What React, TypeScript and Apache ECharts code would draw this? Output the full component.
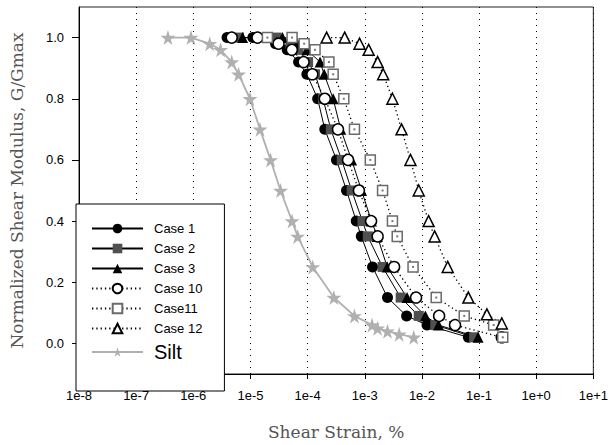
import React, { useEffect, useRef } from "react";
import * as echarts from "echarts";

const yTicks = [0, 0.2, 0.4, 0.6, 0.8, 1.0];

const case1X = [3.9e-6, 1.1e-5, 2.75e-5, 4.4e-5, 6.95e-5, 9.7e-5, 1.5e-4, 2.0e-4, 3.2e-4, 4.8e-4, 7.1e-4, 8.7e-4, 1.37e-3, 2.5e-3, 5.4e-3, 1.23e-2, 6.5e-2];
const case1G = [1.0, 1.0, 0.98, 0.96, 0.92, 0.88, 0.8, 0.7, 0.6, 0.5, 0.4, 0.35, 0.25, 0.15, 0.09, 0.06, 0.02];

const case2X = [6.3e-6, 2.86e-5, 5.0e-5, 6.9e-5, 1.02e-4, 1.35e-4, 1.86e-4, 2.55e-4, 3.95e-4, 5.9e-4, 9.1e-4, 1.13e-3, 2.05e-3, 4.25e-3, 8.8e-3, 1.71e-2, 8.2e-2];
const case2G = [1.0, 1.0, 0.98, 0.96, 0.92, 0.88, 0.8, 0.7, 0.6, 0.5, 0.4, 0.35, 0.25, 0.15, 0.09, 0.06, 0.02];

const case3X = [7.3e-6, 3.63e-5, 6.6e-5, 9.7e-5, 1.65e-4, 1.95e-4, 2.8e-4, 3.8e-4, 5.9e-4, 8.8e-4, 1.31e-3, 1.66e-3, 2.47e-3, 5.5e-3, 1.15e-2, 1.95e-2, 9.6e-2];
const case3G = [1.0, 1.0, 0.98, 0.96, 0.92, 0.88, 0.8, 0.7, 0.6, 0.5, 0.4, 0.35, 0.25, 0.15, 0.09, 0.06, 0.02];

const case10X = [4.7e-6, 1.33e-5, 3.1e-5, 5.3e-5, 8.5e-5, 1.21e-4, 2.0e-4, 3.4e-4, 5.1e-4, 7.9e-4, 1.29e-3, 1.68e-3, 3.26e-3, 7.9e-3, 2.0e-2, 3.8e-2, 0.25];
const case10G = [1.0, 1.0, 0.98, 0.96, 0.92, 0.88, 0.8, 0.7, 0.6, 0.5, 0.4, 0.35, 0.25, 0.15, 0.09, 0.06, 0.02];

const case11X = [1.98e-5, 5.35e-5, 8.7e-5, 1.35e-4, 2.36e-4, 2.8e-4, 4.3e-4, 6.6e-4, 1.25e-3, 2.05e-3, 3.05e-3, 3.7e-3, 7.0e-3, 1.78e-2, 5.5e-2, 0.18, 0.26];
const case11G = [1.0, 1.0, 0.98, 0.96, 0.92, 0.88, 0.8, 0.7, 0.6, 0.5, 0.4, 0.35, 0.25, 0.15, 0.09, 0.06, 0.02];

const case12X = [2.15e-4, 4.45e-4, 8.1e-4, 1.17e-3, 1.68e-3, 2.1e-3, 3.05e-3, 4.4e-3, 6.3e-3, 8.8e-3, 1.31e-2, 1.67e-2, 2.83e-2, 6.5e-2, 0.137, 0.25];
const case12G = [1.0, 1.0, 0.98, 0.96, 0.92, 0.88, 0.8, 0.7, 0.6, 0.5, 0.4, 0.35, 0.25, 0.15, 0.095, 0.065];

const siltX = [3.6e-7, 9.1e-7, 1.94e-6, 3.0e-6, 4.7e-6, 6.2e-6, 9.8e-6, 1.47e-5, 2.25e-5, 3.36e-5, 5.35e-5, 6.7e-5, 1.23e-4, 2.88e-4, 6.6e-4, 1.34e-3, 1.68e-3, 2.5e-3, 4.0e-3, 7.2e-3];
const siltG = [1.0, 1.0, 0.98, 0.96, 0.92, 0.88, 0.8, 0.7, 0.6, 0.5, 0.4, 0.35, 0.25, 0.15, 0.09, 0.06, 0.05, 0.04, 0.03, 0.02];

const zip = (xs: number[], ys: number[]) => xs.map((x, i) => [x, ys[i]]);

const STAR = "path://M50,0 L61,35 L98,35 L68,57 L79,91 L50,70 L21,91 L32,57 L2,35 L39,35 Z";
const DOTTED: number[] = [1.3, 3];
const SANS = "Liberation Sans, Arial, sans-serif";
const SERIF = "DejaVu Serif, Liberation Serif, serif";

export default function App() {
  const ref = useRef<HTMLDivElement>(null);
  useEffect(() => {
    if (!ref.current) return;
    const chart = echarts.init(ref.current, null, { renderer: "svg" });
    const solidLine = { color: "#000", width: 1, type: "solid" };
    const dotLine = { color: "#000", width: 1.3, type: DOTTED };
    chart.setOption({
      animation: false,
      backgroundColor: "#fff",
      grid: {
        left: 76,
        right: 14,
        top: 7,
        bottom: 71,
        show: true,
        borderColor: "#222",
        borderWidth: 1,
        backgroundColor: "transparent",
      },
      legend: {
        orient: "vertical",
        left: 76,
        top: 204,
        padding: [18, 22, 29, 15],
        itemWidth: 51,
        itemHeight: 12,
        itemGap: 7,
        backgroundColor: "#fff",
        borderColor: "#000",
        borderWidth: 1,
        borderRadius: 0,
        textStyle: { fontFamily: SANS, fontSize: 13, color: "#000", padding: [0, 0, 0, 6] },
        data: [
          "Case 1",
          "Case 2",
          "Case 3",
          "Case 10",
          "Case11",
          "Case 12",
          { name: "Silt", textStyle: { fontSize: 20, padding: [0, 0, 0, 6] } },
        ],
        z: 10,
      },
      xAxis: {
        type: "log",
        logBase: 10,
        min: 1e-8,
        max: 10,
        splitNumber: 9,
        name: "Shear Strain, %",
        nameLocation: "middle",
        nameGap: 49,
        nameTextStyle: { fontFamily: SERIF, fontSize: 17, color: "#555" },
        axisLine: { onZero: false, lineStyle: { color: "#000", width: 1 } },
        axisTick: { show: true, inside: false, length: 5, lineStyle: { color: "#000" } },
        axisLabel: {
          margin: 15,
          fontFamily: SANS,
          fontSize: 13,
          color: "#000",
          showMinLabel: true,
          showMaxLabel: true,
          formatter: (v: number) => {
            const e = Math.round(Math.log10(v));
            return "1e" + (e >= 0 ? "+" : "-") + Math.abs(e);
          },
        },
        splitLine: { show: true, lineStyle: { color: "#000", width: 1, type: [1, 5] } },
      },
      yAxis: {
        type: "value",
        min: -0.1,
        max: 1.1,
        name: "Normalized Shear Modulus, G/Gmax",
        nameLocation: "middle",
        nameGap: 54,
        nameTextStyle: { fontFamily: SERIF, fontSize: 17, color: "#555" },
        axisLine: { show: true, onZero: false, lineStyle: { color: "#000", width: 1 } },
        axisTick: { show: true, length: 7, customValues: yTicks, lineStyle: { color: "#000" } },
        axisLabel: {
          margin: 15,
          fontFamily: SANS,
          fontSize: 13,
          color: "#000",
          customValues: yTicks,
          formatter: (v: number) => v.toFixed(1),
        },
        splitLine: { show: false },
      },
      series: [
        {
          name: "Silt",
          type: "line",
          data: zip(siltX, siltG),
          symbol: STAR,
          symbolSize: 15,
          itemStyle: { color: "#b0b0b0" },
          lineStyle: { color: "#b0b0b0", width: 1.8 },
          z: 2,
        },
        {
          name: "Case 1",
          type: "line",
          data: zip(case1X, case1G),
          symbol: "circle",
          symbolSize: 11,
          itemStyle: { color: "#000" },
          lineStyle: solidLine,
          z: 3,
        },
        {
          name: "Case 2",
          type: "line",
          data: zip(case2X, case2G),
          symbol: "rect",
          symbolSize: 10,
          itemStyle: { color: "#505050" },
          lineStyle: solidLine,
          z: 3,
        },
        {
          name: "Case 3",
          type: "line",
          data: zip(case3X, case3G),
          symbol: "triangle",
          symbolSize: 11,
          itemStyle: { color: "#000" },
          lineStyle: solidLine,
          z: 3,
        },
        {
          name: "Case 10",
          type: "line",
          data: zip(case10X, case10G),
          symbol: "circle",
          symbolSize: 11,
          itemStyle: { color: "#fff", borderColor: "#000", borderWidth: 1.5 },
          lineStyle: dotLine,
          z: 4,
        },
        {
          name: "Case11",
          type: "line",
          data: zip(case11X, case11G),
          symbol: "rect",
          symbolSize: 10,
          itemStyle: { color: "#fff", borderColor: "#6a6a6a", borderWidth: 1.5 },
          lineStyle: dotLine,
          z: 4,
        },
        {
          name: "Case11dot",
          type: "scatter",
          data: zip(case11X, case11G),
          symbol: "rect",
          symbolSize: 2,
          itemStyle: { color: "#555" },
          silent: true,
          z: 5,
        },
        {
          name: "Case 12",
          type: "line",
          data: zip(case12X, case12G),
          symbol: "triangle",
          symbolSize: 11,
          itemStyle: { color: "#fff", borderColor: "#000", borderWidth: 1.5 },
          lineStyle: dotLine,
          z: 4,
        },
      ],
    });
    return () => chart.dispose();
  }, []);
  return (
    <div
      ref={ref}
      style={{ position: "absolute", left: 0, top: 0, width: 611, height: 445 }}
    />
  );
}
